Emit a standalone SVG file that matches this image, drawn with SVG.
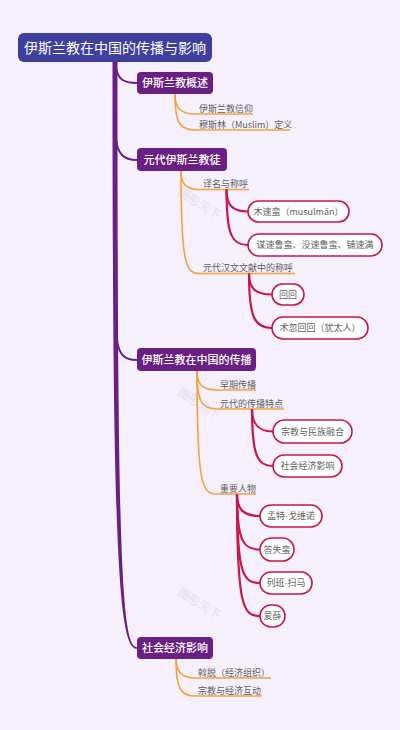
<svg xmlns="http://www.w3.org/2000/svg" width="400" height="730" viewBox="0 0 400 730">
<style>
text{font-family:"Noto Sans CJK SC","Noto Sans",sans-serif}
.root{fill:#3F3F9E}
.rt{fill:#fff;font-size:14px;text-anchor:middle}
.l1{fill:#6A1F82}
.l1t{fill:#fff;font-size:11px;font-weight:500;text-anchor:middle}
.l2t{fill:#5f5f5f;font-size:9px}
.box{fill:#fff;stroke:#C8174A;stroke-width:1.6}
.bt{fill:#5f5f5f;font-size:9px;text-anchor:middle}
.dot{font-family:"Liberation Sans",sans-serif}
.pb{fill:none;stroke:#6A1F82;stroke-width:2;stroke-linecap:round}
.ob{fill:none;stroke:#F4A23E;stroke-width:1.6}
.rb{fill:none;stroke:#C8174A;stroke-width:2.2}
.wm{fill:#000;opacity:0.05;font-size:12px;font-weight:bold;text-anchor:middle}
</style>
<rect width="400" height="730" fill="#F6F0FD"/>
<g id="watermarks">
<text class="wm" transform="translate(197,207) rotate(32)">图形天下</text>
<text class="wm" transform="translate(197,407) rotate(32)">图形天下</text>
<text class="wm" transform="translate(197,607) rotate(32)">图形天下</text>
</g>
<g id="connectors">
<path d="M112.5,62 C112.5,550 118,649 137,648.8 L137,647.2 C121,647 117.5,550 117.5,62 Z" fill="#6A1F82"/>
<path class="pb" d="M115.5,64 C117,80 124,83 137,83"/>
<path class="pb" d="M115.5,135 C117,155 124,160 137,160"/>
<path class="pb" d="M116,330 C117,355 124,360 137,360"/>
<path class="ob" d="M175,94 C175,108 180,114 196,114 L253,114"/>
<path class="ob" d="M175,94 C175,124 180,130 196,130 L290,130"/>
<path class="ob" d="M181,171 C181,184 186,189.5 200,189.5 L249,189.5"/>
<path class="ob" d="M181,171 C181,266 186,273.5 200,273.5 L295,273.5"/>
<path class="ob" d="M197,371 C197,384 202,390 217,390 L256,390"/>
<path class="ob" d="M197,371 C197,402 202,409 217,409 L284,409"/>
<path class="ob" d="M197,371 C197,486 202,494 217,494 L256,494"/>
<path class="ob" d="M176,659 C176,671 181,678 195,678 L271,678"/>
<path class="ob" d="M176,659 C176,689 181,696 195,696 L262,696"/>
<path class="rb" d="M226.5,189.5 C226.5,205 232,211.5 248,211.5"/>
<path class="rb" d="M226.5,189.5 C226.5,236 232,245 248,245"/>
<path class="rb" d="M249,273.5 C249,288 255,294.5 272,294.5"/>
<path class="rb" d="M249,273.5 C249,319 255,328 272,328"/>
<path class="rb" d="M252,409 C252,424 258,431.5 273,431.5"/>
<path class="rb" d="M252,409 C252,457 258,466 273,466"/>
<path class="rb" d="M237,494 C237,509 243,516 260,516"/>
<path class="rb" d="M237,494 C237,541 243,549.5 260,549.5"/>
<path class="rb" d="M237,494 C237,574 243,583 260,583"/>
<path class="rb" d="M237,494 C237,607 243,616 260,616"/>
</g>
<g id="root">
<rect class="root" x="18" y="33" width="194" height="29" rx="6"/>
<text class="rt" x="115" y="52.5">伊斯兰教在中国的传播与影响</text>
</g>
<g id="n-overview">
<rect class="l1" x="137" y="72" width="76" height="22" rx="4"/>
<text class="l1t" x="175" y="87">伊斯兰教概述</text>
</g>
<g id="n-belief"><text class="l2t" x="199" y="111.5">伊斯兰教信仰</text></g>
<g id="n-muslim"><text class="l2t" x="199" y="127.5">穆斯林（Muslim）定义</text></g>
<g id="n-yuan">
<rect class="l1" x="137" y="148" width="90" height="23" rx="4"/>
<text class="l1t" x="182" y="163.5">元代伊斯兰教徒</text>
</g>
<g id="n-names"><text class="l2t" x="203" y="187">译名与称呼</text></g>
<g id="n-musuman">
<rect class="box" x="248" y="201" width="101" height="21" rx="10.5"/>
<text class="bt" x="298.5" y="214.5">木速蛮（musulmān）</text>
</g>
<g id="n-mosuluman">
<rect class="box" x="248" y="234" width="134" height="22" rx="11"/>
<text class="bt" x="315" y="248">谋速鲁蛮、没速鲁蛮、铺速满</text>
</g>
<g id="n-hanwen"><text class="l2t" x="203" y="271">元代汉文文献中的称呼</text></g>
<g id="n-huihui">
<rect class="box" x="272" y="284" width="32" height="21" rx="10.5"/>
<text class="bt" x="288" y="297.5">回回</text>
</g>
<g id="n-shuhu">
<rect class="box" x="272" y="317" width="96" height="22" rx="11"/>
<text class="bt" x="320" y="331">术忽回回（犹太人）</text>
</g>
<g id="n-spread">
<rect class="l1" x="137" y="348" width="119" height="23" rx="4"/>
<text class="l1t" x="196.5" y="363.5">伊斯兰教在中国的传播</text>
</g>
<g id="n-early"><text class="l2t" x="220" y="387.5">早期传播</text></g>
<g id="n-yuanfeature"><text class="l2t" x="220" y="406.5">元代的传播特点</text></g>
<g id="n-fusion">
<rect class="box" x="273" y="420" width="79" height="23" rx="11.5"/>
<text class="bt" x="312.5" y="434.5">宗教与民族融合</text>
</g>
<g id="n-socimpact">
<rect class="box" x="273" y="455" width="69" height="22" rx="11"/>
<text class="bt" x="307.5" y="469">社会经济影响</text>
</g>
<g id="n-people"><text class="l2t" x="220" y="491.5">重要人物</text></g>
<g id="n-monte">
<rect class="box" x="260" y="505" width="62" height="22" rx="11"/>
<text class="bt" x="291" y="519">孟特<tspan class="dot">·</tspan>戈维诺</text>
</g>
<g id="n-dashiman">
<rect class="box" x="260" y="538" width="34" height="23" rx="11.5"/>
<text class="bt" x="277" y="552.5">答失蛮</text>
</g>
<g id="n-liebansaoma">
<rect class="box" x="260" y="572" width="52" height="22" rx="11"/>
<text class="bt" x="286" y="586">列班<tspan class="dot">·</tspan>扫马</text>
</g>
<g id="n-aixue">
<rect class="box" x="260" y="605" width="25" height="22" rx="11"/>
<text class="bt" x="272.5" y="619">爱薛</text>
</g>
<g id="n-economy">
<rect class="l1" x="137" y="637" width="76" height="22" rx="4"/>
<text class="l1t" x="175" y="652">社会经济影响</text>
</g>
<g id="n-ortoq"><text class="l2t" x="198" y="675.5">斡脱（经济组织）</text></g>
<g id="n-interact"><text class="l2t" x="198" y="693.5">宗教与经济互动</text></g>
</svg>
